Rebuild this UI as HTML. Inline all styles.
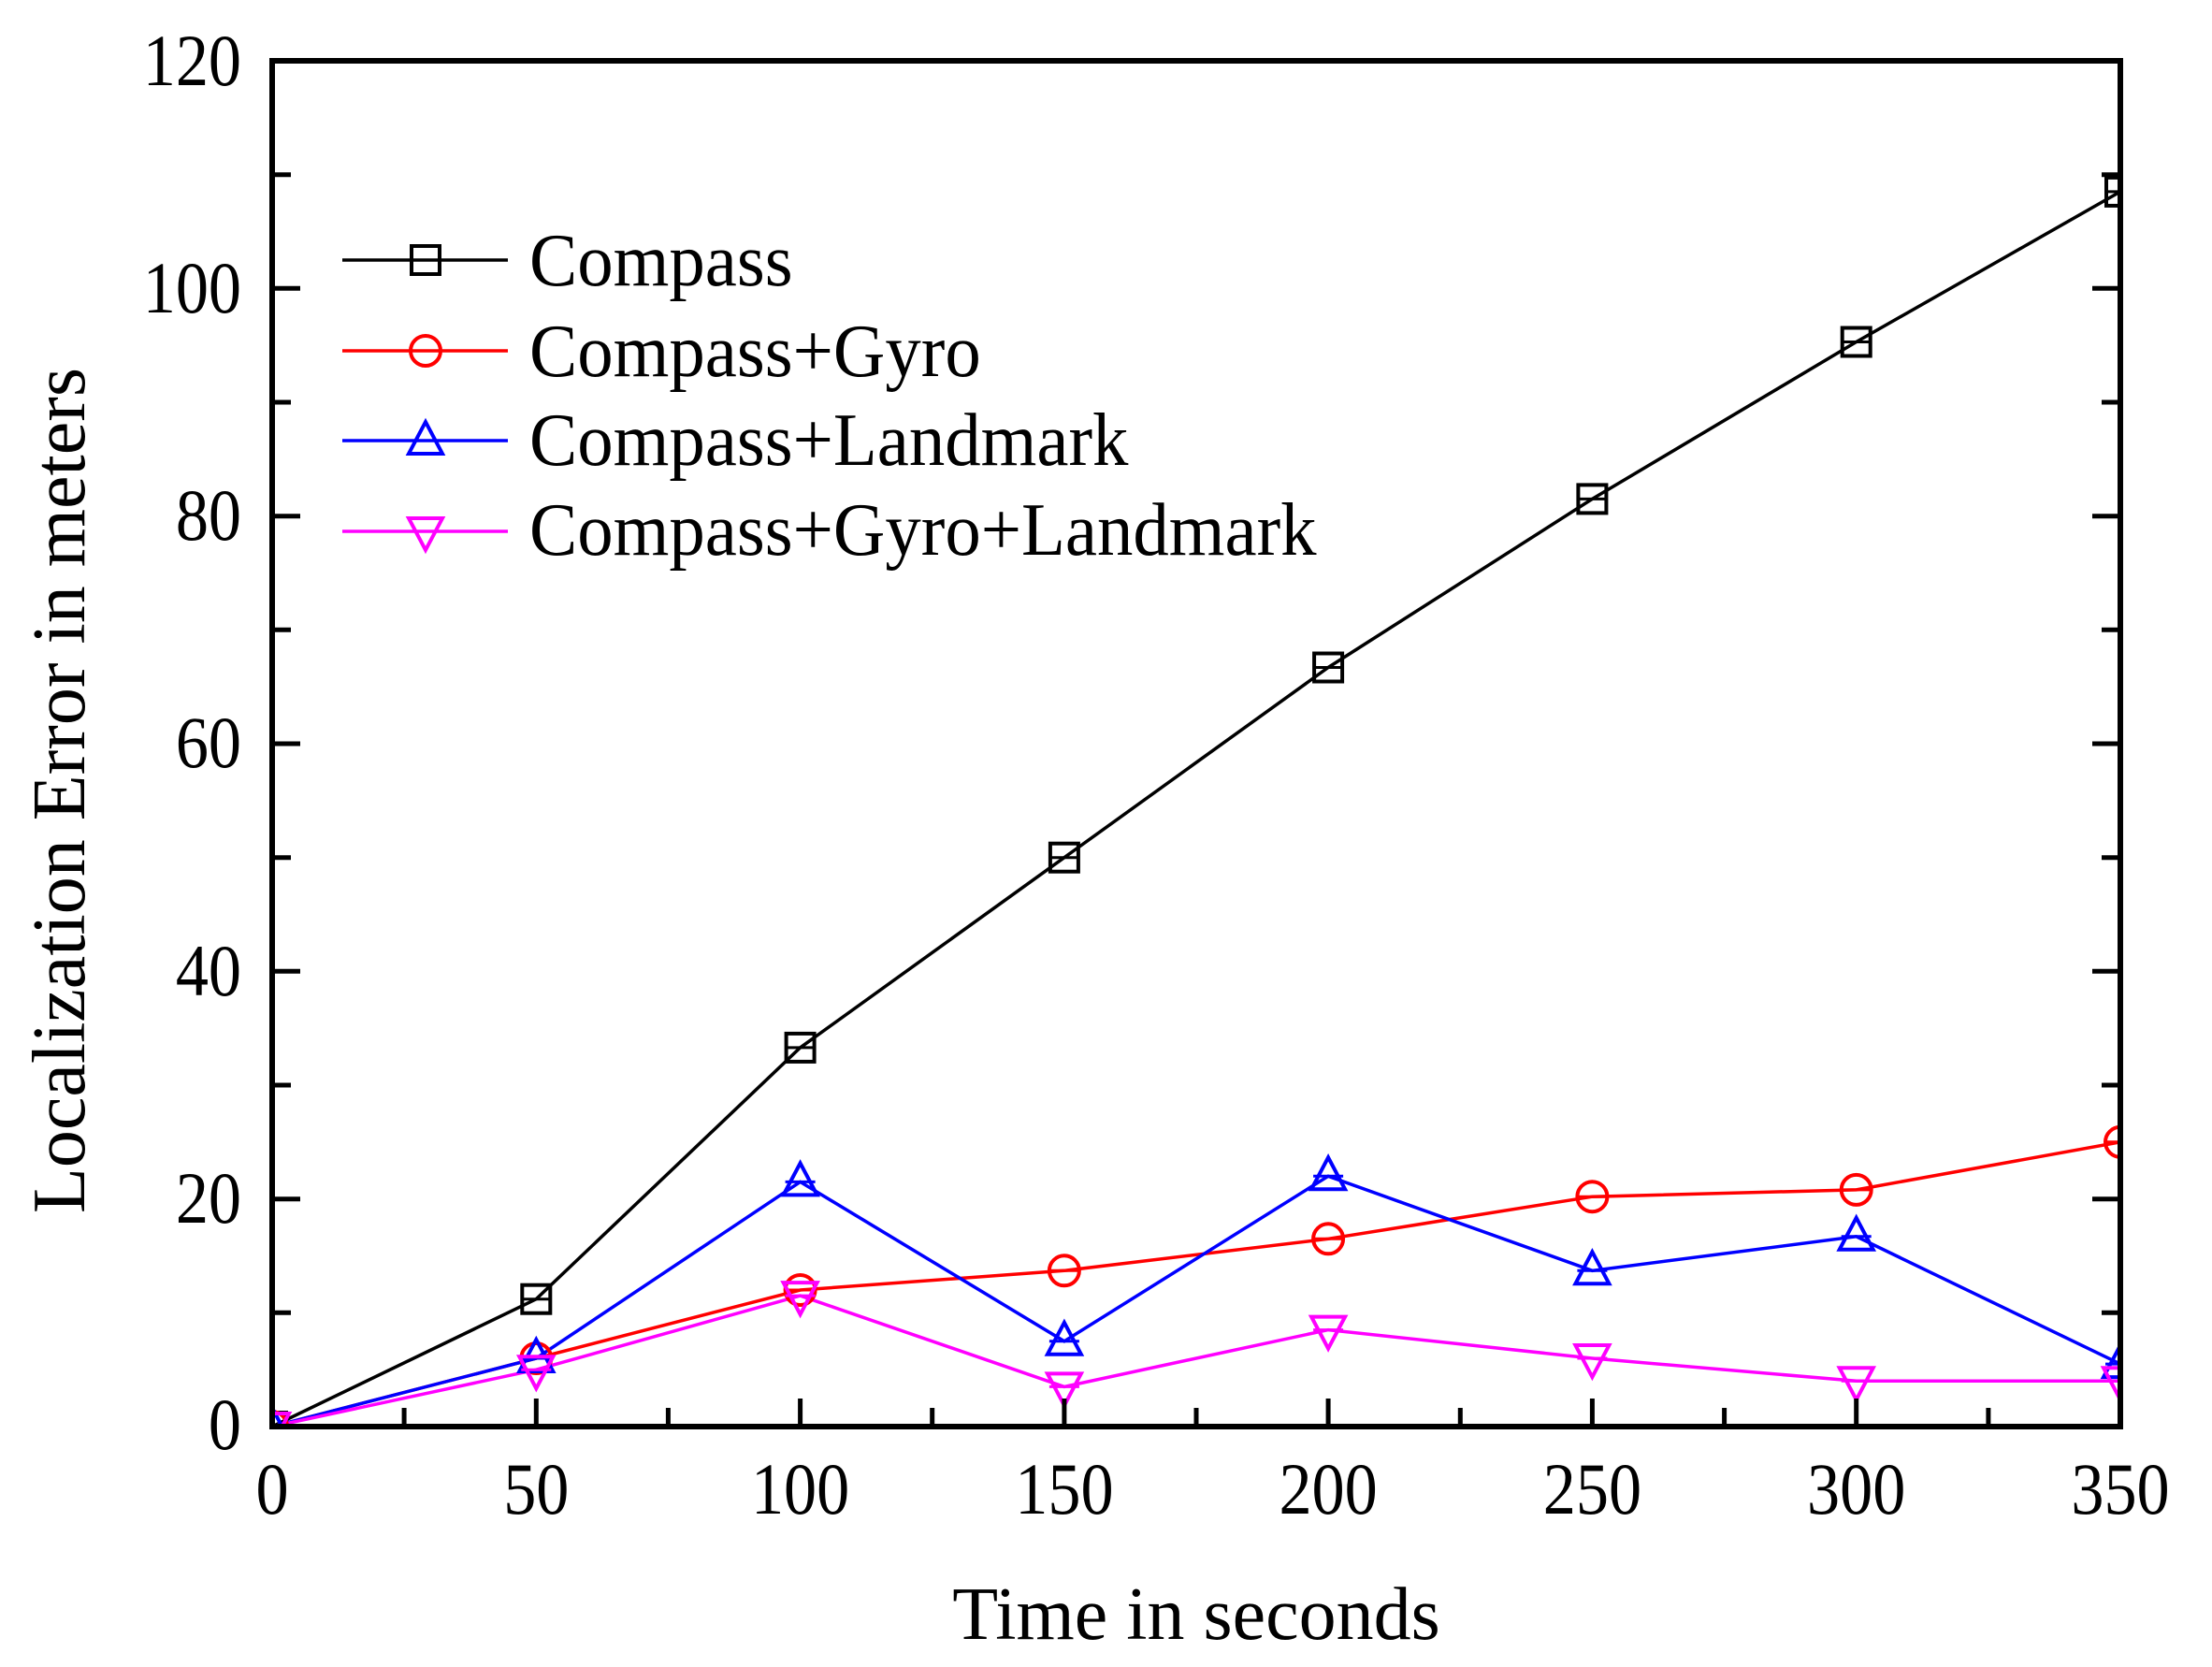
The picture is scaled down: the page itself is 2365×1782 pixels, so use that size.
<!DOCTYPE html>
<html><head><meta charset="utf-8"><style>body{margin:0;background:#fff}svg{display:block}text{font-family:"Liberation Serif",serif;fill:#000}</style></head>
<body>
<svg width="2365" height="1782" viewBox="0 0 2365 1782" xmlns="http://www.w3.org/2000/svg" xmlns:xlink="http://www.w3.org/1999/xlink">
<defs>
<clipPath id="c"><rect x="291" y="65" width="1976" height="1460"/></clipPath>
<g id="sq" fill="none" stroke="#000"><rect x="-15" y="-15" width="30" height="30" stroke-width="4"/><line x1="-16" x2="16" y1="0" y2="0" stroke-width="3"/></g>
<g id="ci" fill="none" stroke="#f00"><circle r="16" stroke-width="4"/><line x1="-16" x2="16" y1="0" y2="0" stroke-width="3"/></g>
<g id="tu" fill="none" stroke="#00f"><polygon points="0,-20 18,14 -18,14" stroke-width="4"/><line x1="-16" x2="16" y1="0" y2="0" stroke-width="3"/></g>
<g id="td" fill="none" stroke="#f0f"><polygon points="0,20 18,-14 -18,-14" stroke-width="4"/><line x1="-16" x2="16" y1="0" y2="0" stroke-width="3"/></g>
</defs>
<g clip-path="url(#c)">
<polyline fill="none" stroke="#000" stroke-width="3.5" points="291,1525 573.3,1388.7 855.6,1119.9 1137.9,916.7 1420.1,713.5 1702.4,533.4 1984.7,365.5 2267,204.9"/>
<polyline fill="none" stroke="#f00" stroke-width="3.5" points="291,1525 573.3,1452 855.6,1379 1137.9,1358.3 1420.1,1324.3 1702.4,1279.2 1984.7,1271.9 2267,1220.8"/>
<polyline fill="none" stroke="#00f" stroke-width="3.5" points="291,1525 573.3,1452 855.6,1263.4 1137.9,1433.8 1420.1,1257.3 1702.4,1358.3 1984.7,1321.8 2267,1458.1"/>
<polyline fill="none" stroke="#f0f" stroke-width="3.5" points="291,1525 573.3,1464.2 855.6,1385.1 1137.9,1482.4 1420.1,1421.6 1702.4,1452 1984.7,1476.3 2267,1476.3"/>
<use xlink:href="#sq" x="291" y="1525"/><use xlink:href="#sq" x="573.3" y="1388.7"/><use xlink:href="#sq" x="855.6" y="1119.9"/><use xlink:href="#sq" x="1137.9" y="916.7"/><use xlink:href="#sq" x="1420.1" y="713.5"/><use xlink:href="#sq" x="1702.4" y="533.4"/><use xlink:href="#sq" x="1984.7" y="365.5"/><use xlink:href="#sq" x="2267" y="204.9"/>
<use xlink:href="#ci" x="291" y="1525"/><use xlink:href="#ci" x="573.3" y="1452"/><use xlink:href="#ci" x="855.6" y="1379"/><use xlink:href="#ci" x="1137.9" y="1358.3"/><use xlink:href="#ci" x="1420.1" y="1324.3"/><use xlink:href="#ci" x="1702.4" y="1279.2"/><use xlink:href="#ci" x="1984.7" y="1271.9"/><use xlink:href="#ci" x="2267" y="1220.8"/>
<use xlink:href="#tu" x="291" y="1525"/><use xlink:href="#tu" x="573.3" y="1452"/><use xlink:href="#tu" x="855.6" y="1263.4"/><use xlink:href="#tu" x="1137.9" y="1433.8"/><use xlink:href="#tu" x="1420.1" y="1257.3"/><use xlink:href="#tu" x="1702.4" y="1358.3"/><use xlink:href="#tu" x="1984.7" y="1321.8"/><use xlink:href="#tu" x="2267" y="1458.1"/>
<use xlink:href="#td" x="291" y="1525"/><use xlink:href="#td" x="573.3" y="1464.2"/><use xlink:href="#td" x="855.6" y="1385.1"/><use xlink:href="#td" x="1137.9" y="1482.4"/><use xlink:href="#td" x="1420.1" y="1421.6"/><use xlink:href="#td" x="1702.4" y="1452"/><use xlink:href="#td" x="1984.7" y="1476.3"/><use xlink:href="#td" x="2267" y="1476.3"/>
</g>
<g stroke="#000" stroke-width="5">
<path d="M291,1525h30M291,1403.3h20M291,1281.7h30M291,1160h20M291,1038.3h30M291,916.7h20M291,795h30M291,673.3h20M291,551.7h30M291,430h20M291,308.3h30M291,186.7h20"/>
<path d="M2267,1403.3h-20M2267,1281.7h-30M2267,1160h-20M2267,1038.3h-30M2267,916.7h-20M2267,795h-30M2267,673.3h-20M2267,551.7h-30M2267,430h-20M2267,308.3h-30M2267,186.7h-20"/>
<path d="M432.1,1525v-20M573.3,1525v-30M714.4,1525v-20M855.6,1525v-30M996.7,1525v-20M1137.9,1525v-30M1279,1525v-20M1420.1,1525v-30M1561.3,1525v-20M1702.4,1525v-30M1843.6,1525v-20M1984.7,1525v-30M2125.9,1525v-20"/>
</g>
<rect x="291" y="65" width="1976" height="1460" fill="none" stroke="#000" stroke-width="6"/>
<g font-size="78" text-anchor="end">
<text transform="translate(258,1549) scale(0.9,1)">0</text>
<text transform="translate(258,1307) scale(0.9,1)">20</text>
<text transform="translate(258,1064) scale(0.9,1)">40</text>
<text transform="translate(258,820) scale(0.9,1)">60</text>
<text transform="translate(258,577) scale(0.9,1)">80</text>
<text transform="translate(258,334) scale(0.9,1)">100</text>
<text transform="translate(258,91) scale(0.9,1)">120</text>
</g>
<g font-size="78" text-anchor="middle">
<text transform="translate(291,1618) scale(0.9,1)">0</text>
<text transform="translate(573.3,1618) scale(0.9,1)">50</text>
<text transform="translate(855.6,1618) scale(0.9,1)">100</text>
<text transform="translate(1137.9,1618) scale(0.9,1)">150</text>
<text transform="translate(1420.1,1618) scale(0.9,1)">200</text>
<text transform="translate(1702.4,1618) scale(0.9,1)">250</text>
<text transform="translate(1984.7,1618) scale(0.9,1)">300</text>
<text transform="translate(2267,1618) scale(0.9,1)">350</text>
</g>
<text x="1279" y="1752" font-size="80" text-anchor="middle">Time in seconds</text>
<text transform="translate(90,845) rotate(-90)" font-size="80" text-anchor="middle">Localization Error in meters</text>
<line x1="366" x2="543" y1="278" y2="278" stroke="#000" stroke-width="3.5"/><use xlink:href="#sq" x="455" y="278"/>
<line x1="366" x2="543" y1="375" y2="375" stroke="#f00" stroke-width="3.5"/><use xlink:href="#ci" x="455" y="375"/>
<line x1="366" x2="543" y1="471" y2="471" stroke="#00f" stroke-width="3.5"/><use xlink:href="#tu" x="455" y="471"/>
<line x1="366" x2="543" y1="568" y2="568" stroke="#f0f" stroke-width="3.5"/><use xlink:href="#td" x="455" y="568"/>
<g font-size="80">
<text transform="translate(566,305) scale(0.96,1)">Compass</text>
<text transform="translate(566,402) scale(0.96,1)">Compass+Gyro</text>
<text transform="translate(566,497) scale(0.96,1)">Compass+Landmark</text>
<text transform="translate(566,593) scale(0.96,1)">Compass+Gyro+Landmark</text>
</g>
</svg>
</body></html>
